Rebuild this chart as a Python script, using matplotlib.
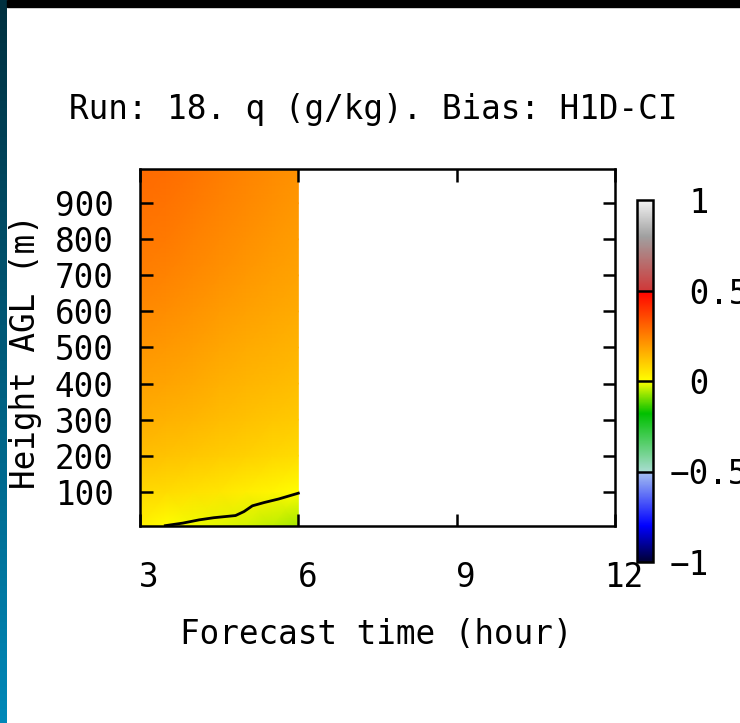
import numpy as np
import matplotlib
matplotlib.use("Agg")
import matplotlib.pyplot as plt
from matplotlib.colors import LinearSegmentedColormap, to_rgb
from matplotlib.patches import Rectangle
from matplotlib.transforms import ScaledTranslation

# forecast hours and heights (m) of the bias field
times = [3.0, 3.5, 4.0, 4.5, 5.0, 5.5, 6.0]
heights = [5, 100, 200, 300, 400, 500, 600, 700, 800, 900, 995]

# q bias (g/kg), one row per height
bias = [
    [0.030, 0.002, -0.010, -0.020, -0.030, -0.045, -0.065],
    [0.075, 0.070, 0.060, 0.050, 0.035, 0.020, 0.002],
    [0.125, 0.118, 0.110, 0.100, 0.090, 0.080, 0.070],
    [0.160, 0.152, 0.143, 0.132, 0.122, 0.113, 0.105],
    [0.185, 0.178, 0.168, 0.156, 0.146, 0.137, 0.128],
    [0.208, 0.200, 0.190, 0.177, 0.166, 0.157, 0.148],
    [0.230, 0.222, 0.210, 0.196, 0.184, 0.174, 0.165],
    [0.250, 0.243, 0.230, 0.215, 0.202, 0.190, 0.180],
    [0.266, 0.260, 0.246, 0.231, 0.217, 0.204, 0.193],
    [0.280, 0.274, 0.260, 0.245, 0.231, 0.217, 0.205],
    [0.292, 0.286, 0.272, 0.257, 0.242, 0.228, 0.215],
]

# zero contour of the bias
zero_x = [3.48, 3.81, 4.12, 4.40, 4.81, 4.97, 5.13, 5.35, 5.63, 6.0]
zero_y = [6, 13, 22, 28, 34, 45, 61, 70, 80, 96]

title = "Run: 18. q (g/kg). Bias: H1D-CI"
cbar_ticks = [-1, -0.5, 0, 0.5, 1]
cbar_labels = ["\u22121", "\u22120.5", " 0", " 0.5", " 1"]

# palette: value, colour below, colour above
stops = [
    (-1.0, "#000033", "#000033"),
    (-0.8, "#0000ff", "#0000ff"),
    (-0.5, "#a8c4f0", "#a8dcd0"),
    (-0.18, "#00c000", "#00c000"),
    (0.0, "#ffff00", "#ffff00"),
    (0.5, "#ff0000", "#d03838"),
    (0.8, "#a0a0a0", "#a0a0a0"),
    (1.0, "#f4f4f4", "#f4f4f4"),
]
seg = {"red": [], "green": [], "blue": []}
for v, lo, hi in stops:
    a, b = to_rgb(lo), to_rgb(hi)
    p = (v + 1) / 2
    for i, ch in enumerate(["red", "green", "blue"]):
        seg[ch].append((p, a[i], b[i]))
cmap = LinearSegmentedColormap("gnu", seg, N=1024)

plt.rcParams["font.family"] = "DejaVu Sans Mono"
plt.rcParams["font.size"] = 23.5

W, H = 740, 723
fig = plt.figure(figsize=(W / 100, H / 100), dpi=100)
fig.patch.set_facecolor("white")

# dark frame around the panel
strip = fig.add_axes([0, 0, 7 / W, 1])
strip.imshow(np.linspace(0, 1, 100).reshape(-1, 1),
             cmap=LinearSegmentedColormap.from_list("edge", ["#00303f", "#0088b8"]),
             aspect="auto", extent=[0, 1, 0, 1], origin="upper")
strip.axis("off")
fig.patches.append(Rectangle((7 / W, 1 - 7 / H), 1, 7 / H, transform=fig.transFigure,
                             color="black", zorder=0))

ax = fig.add_axes([140 / W, 1 - 526 / H, 475 / W, 357 / H])
mesh = ax.pcolormesh(times, heights, np.array(bias), cmap=cmap, vmin=-1, vmax=1,
                     shading="gouraud", zorder=1)
ax.plot(zero_x, zero_y, color="black", lw=2, zorder=3)

ax.set_xlim(3, 12)
ax.set_ylim(5, 995)
ax.set_xticks([3, 6, 9, 12])
ax.set_yticks(range(100, 1000, 100))
ax.tick_params(direction="in", length=9, width=1.8, top=True, right=True)
ax.tick_params(axis="x", pad=25)
ax.tick_params(axis="y", pad=19)
for s in ax.spines.values():
    s.set_linewidth(1.8)
shift = ScaledTranslation(9 / 100, 0, fig.dpi_scale_trans)
for lbl in ax.get_xticklabels():
    lbl.set_transform(lbl.get_transform() + shift)

fig.text(373 / W, 1 - 110 / H, title, ha="center", va="center")
fig.text(376 / W, 1 - 634 / H, "Forecast time (hour)", ha="center", va="center")
fig.text(26 / W, 1 - 352 / H, "Height AGL (m)", ha="center", va="center", rotation=90)

cax = fig.add_axes([637 / W, 1 - 562 / H, 16 / W, 362 / H])
cbar = fig.colorbar(mesh, cax=cax)
cbar.set_ticks(cbar_ticks)
cbar.set_ticklabels(cbar_labels)
cax.tick_params(length=0, pad=12)
cbar.outline.set_linewidth(1.8)
for v in [-0.5, 0, 0.5]:
    cax.axhline(v, color="black", lw=1.8)

fig.savefig("out.png", dpi=100)
